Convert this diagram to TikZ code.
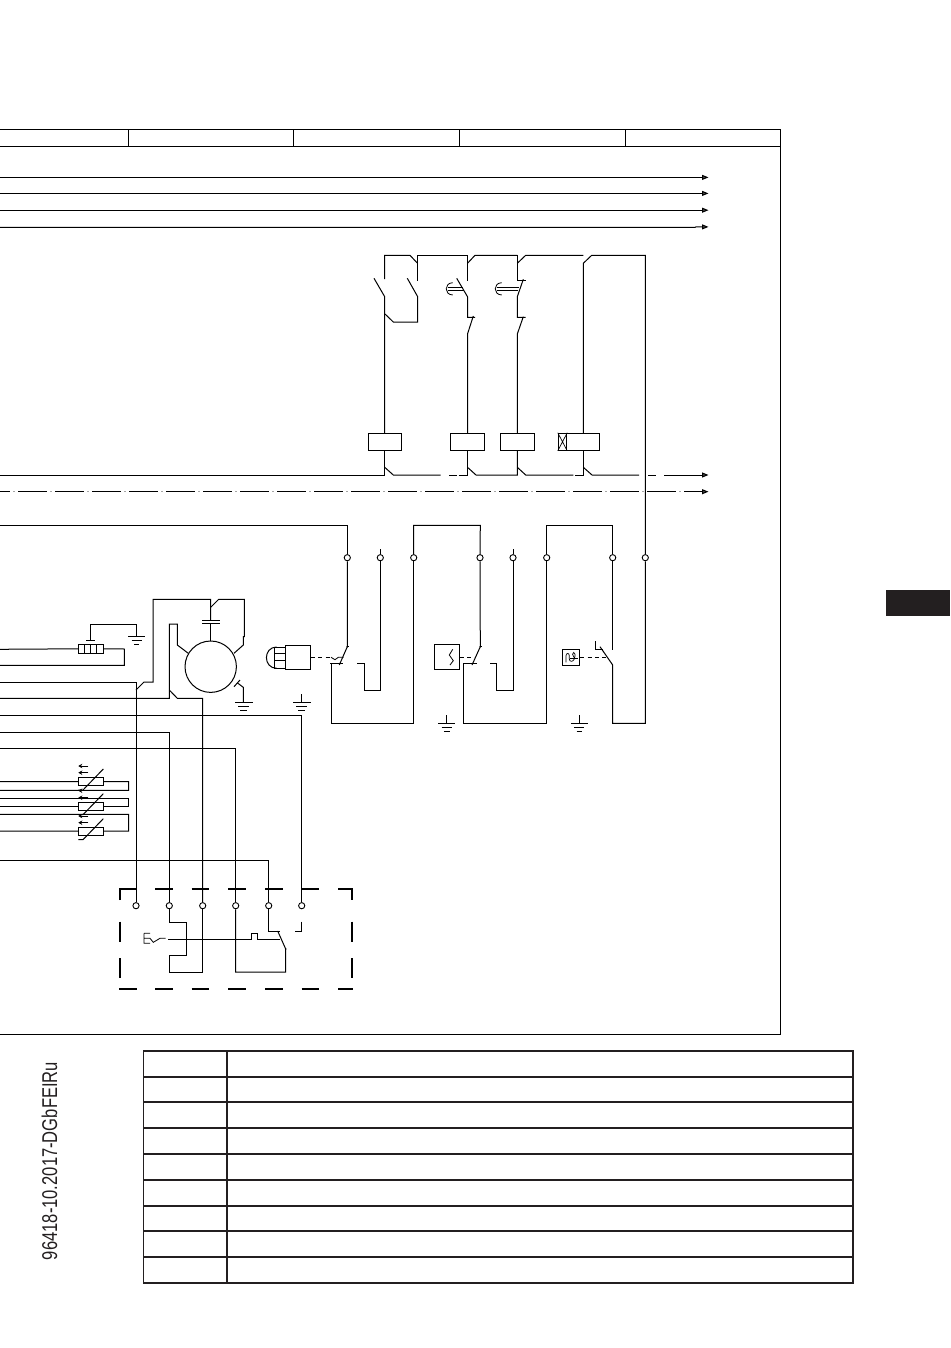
\documentclass[tikz,border=0pt]{standalone}
\usepackage{fontspec}
\usepackage{graphicx}
\setmainfont{Liberation Sans}
\usetikzlibrary{arrows.meta}
\definecolor{ink}{HTML}{231F20}
\tikzset{
  wire/.style={line width=1pt,line cap=butt,line join=miter,draw=black},
  thick wire/.style={line width=1.6pt,draw=black},
  bus/.style={wire,-{Triangle[length=6.5pt,width=5pt,fill=black!70]}},
  terminal/.style={circle,draw=black,fill=white,line width=0.9pt,inner sep=0pt,minimum size=6.2pt},
  coil/.style={rectangle,draw=black,line width=1pt,inner sep=0pt,minimum height=17pt},
  blockbox/.style={rectangle,draw=black,line width=1pt,inner sep=0pt},
  linkage/.style={line width=0.9pt,draw=black,dash pattern=on 4pt off 3.2pt},
  dashlong/.style={line width=1pt,draw=black,dash pattern=on 29pt off 8pt,dash phase=18.7pt},
  dashdot/.style={line width=1pt,draw=black!35,dash pattern=on 1.6pt off 35.4pt,dash phase=23.7pt},
  cabinet/.style={line width=1.8pt,draw=black},
  gridline/.style={line width=1.8pt,draw=ink},
  resbox/.style={rectangle,draw=black,fill=white,line width=1pt,inner sep=0pt,minimum width=25.4pt,minimum height=8.4pt},
}
\begin{document}
\begin{tikzpicture}[x=1pt,y=-1pt]
\useasboundingbox (0,0) rectangle (950,1348);
% free ends at the cut-off left edge
\foreach \n/\y in {a/177.4,b/193.4,c/210.2,d/227.4,e/475,f/491.7,g/525.3,h/649.3,i/665.3,j/682,k/698.3,l/715.7,m/732.7,n/748,o/781.7,p/790.3,q/798.3,r/806.3,s/814.3,t/831,u/860.3}{
  \coordinate (L\n) at (0,\y);
}
% frame
\coordinate (FTL) at (0,129.6); \coordinate (FTR) at (780.5,129.6);
\coordinate (FBR) at (780.5,1034.3); \coordinate (FBL) at (0,1034.3);
\coordinate (HL) at (0,146.4); \coordinate (HR) at (780.5,146.4);
\draw[wire] (FBL) -- (FBR) -- (FTR);
\draw[thick wire] (FTR) -- (FTL);
\draw[wire] (HL) -- (HR);
\foreach \x in {128.5,293.5,459.5,625}{\draw[wire] (\x,129.6) -- (\x,146.4);}
% buses
\foreach \n/\y in {a/177.4,b/193.4,c/210.2}{\draw[bus] (L\n) -- (708.5,\y);}
\draw[bus] (Ld) -- (695,227.4) -- (696,226.9) -- (708.5,226.9);
% coils
\node[coil,minimum width=33.4pt] (c1) at (384.7,441.8) {};
\node[coil,minimum width=34.4pt] (c2) at (467.5,441.8) {};
\node[coil,minimum width=33.4pt] (c3) at (517.3,441.8) {};
\node[coil,minimum width=33pt] (c4) at (583.3,441.8) {};
\node[coil,minimum width=8.4pt] (c4x) at (562.5,441.8) {};
\draw[wire,line width=.7pt] (c4x.north west) -- (c4x.south east) (c4x.north east) -- (c4x.south west);
% terminals
\foreach \n/\x in {t1/347.3,t2/380.3,t3/413.7,t4/480,t5/513,t6/546.7,t7/612.7,t8/645.3}{
  \node[terminal] (\n) at (\x,557.7) {};
}
\foreach \n/\x in {b1/136,b2/169.3,b3/202.7,b4/235.7,b5/268.7,b6/301.7}{
  \node[terminal] (\n) at (\x,905.7) {};
}
% upper control circuit
\draw[wire] (c1.north) -- (384.7,296.7) -- (374,278.3);
\draw[wire] (384.7,279) -- (384.7,255.3) -- (410,255.3) -- (417.5,263.3);
\draw[wire] (417.5,280.7) -- (417.5,255.3) -- (467.5,255.3) -- (467.5,280.7);
\draw[wire] (407.3,278.3) -- (417.7,296.7) -- (417.7,322) -- (393.3,322) -- (385,314);
\draw[wire] (456.7,278.3) -- (467.5,296.7) -- (467.5,317.3) -- (475,317.3);
\draw[wire] (473.3,316) -- (467.5,334) -- (c2.north);
\draw[wire] (467.5,263.3) -- (475,255.3) -- (517.3,255.3);
\draw[wire,line width=.8pt] (447.5,287.7) -- (463.3,287.7) (447.5,290) -- (463.8,290);
\draw[wire,line width=.8pt] (452.7,282.7) .. controls (444,283) and (444,294.7) .. (452.7,295);
\draw[wire] (517.3,255.3) -- (517.3,280) -- (525.7,280);
\draw[wire] (523.3,279.3) -- (517.3,296.7) -- (517.3,317.3) -- (525.7,317.3);
\draw[wire] (523.3,316.7) -- (517.3,334) -- (c3.north);
\draw[wire,line width=.8pt] (496.7,287.7) -- (518.5,287.7) (496.7,290) -- (518,290);
\draw[wire,line width=.8pt] (501.7,282.7) .. controls (493,283) and (493,294.7) .. (501.7,295);
\draw[wire] (517.3,263.3) -- (525.7,255.3) -- (583.3,255.3);
\draw[wire] (c4.north) -- (583.3,263.3) -- (591.7,255.3) -- (645.3,255.3) -- (t8.north);
% return line below the coils
\draw[wire] (Le) -- (384.7,475) -- (c1.south);
\draw[wire] (384.7,467.3) -- (393.3,475) -- (440.7,475);
\draw[wire] (449.3,475) -- (457,475) (458.5,475) -- (467.5,475) -- (c2.south);
\draw[wire] (467.5,467.3) -- (476,475) -- (517.3,475) -- (c3.south);
\draw[wire] (517.3,467.3) -- (525.7,475) -- (573.3,475);
\draw[wire] (575,475) -- (583.3,475) -- (c4.south);
\draw[wire] (583.3,467.3) -- (592,475) -- (639,475);
\draw[wire] (648,475) -- (656,475);
\draw[bus] (664,475) -- (708.5,475);
\draw[dashlong] (Lf) -- (702,491.7);
\draw[dashdot] (Lf) -- (702,491.7);
\draw[bus] (702,491.7) -- (708.5,491.7);
% right-hand switches
\draw[wire] (Lg) -- (347.3,525.3) -- (t1.north);
\draw[wire] (t1.south) -- (347.3,646.7) -- (339.3,665);
\draw[wire] (347.3,646.7) -- (349.3,646.7);
\fill (347.3,646.7) circle (.9pt);
\draw[wire] (t2.north) -- (380.3,549.3);
\draw[wire] (t2.south) -- (380.3,690) -- (364.3,690) -- (364.3,663.3) -- (357.3,663.3);
\draw[wire] (330,663.3) -- (343.3,663.3);
\draw[wire] (331,663.3) -- (331,723.3) -- (413.7,723.3) -- (t3.south);
\draw[wire] (t3.north) -- (413.7,525.3) -- (480.3,525.3) -- (t4.north);
\draw[wire] (t4.south) -- (480.3,646.7) -- (472,665);
\draw[wire] (480.3,646.7) -- (482.3,646.7);
\fill (480.3,646.7) circle (.9pt);
\draw[wire] (t5.north) -- (513,549.3);
\draw[wire] (t5.south) -- (513,690) -- (496.7,690) -- (496.7,663.3) -- (490,663.3);
\draw[wire] (463,663.3) -- (476.5,663.3);
\draw[wire] (463.5,663.3) -- (463.5,723.3) -- (546.7,723.3) -- (t6.south);
\draw[wire] (t6.north) -- (546.7,525.3) -- (612.7,525.3) -- (t7.north);
\draw[wire] (t7.south) -- (612.7,650);
\draw[wire] (600,646.7) -- (612.7,665) -- (612.7,723.3) -- (645.3,723.3) -- (t8.south);
\draw[wire] (595.3,641) -- (595.3,649.3) -- (602.7,649.3);
% lamp
\node[blockbox,minimum width=25pt,minimum height=24pt] (lamp) at (298.2,657.3) {};
\draw[wire] (276.7,647) .. controls (263,647) and (263,668.3) .. (276.7,668.3);
\draw[wire] (274.3,647) -- (285.7,647) (274.3,653.3) -- (285.7,653.3) (274.3,660) -- (285.7,660) (274.3,668.3) -- (285.7,668.3);
\draw[wire] (274.3,647) -- (274.3,668.3);
\draw[linkage] (lamp.east) -- (331,657.3);
\draw[wire,line width=.8pt] (331,657.3) -- (335,659.7) -- (338.3,657.3) -- (343.5,657.3);
% sensor 1
\node[blockbox,minimum width=25.4pt,minimum height=25.4pt] (s1) at (447,657) {};
\draw[wire,line width=.8pt] (452.7,649.3) -- (449.3,655) -- (453.3,660.7) -- (450,665);
\draw[linkage] (s1.east) -- (476,657);
% sensor 2
\node[blockbox,minimum width=17.6pt,minimum height=16.5pt] (s2) at (571.1,657.3) {};
\draw[wire,line width=.7pt] (566,662.3) -- (566,655.7) .. controls (566,652.7) and (569.3,652.7) .. (569.3,655.7) -- (569.3,659) .. controls (569.3,662) and (573,662) .. (574,659.5) .. controls (575.8,655) and (575.3,652.5) .. (573.7,652.5) .. controls (572,652.5) and (572.3,655.5) .. (574,657.5);
\draw[wire,line width=.7pt] (570,658) -- (577.5,658);
\draw[linkage] (s2.east) -- (606,657.3);
% earths of the switches
\foreach \x/\y in {446.7/723.3,579.3/723.3}{
  \draw[wire] (\x,\y-8.3) -- (\x,\y) (\x-8.3,\y) -- (\x+8.3,\y) (\x-5,\y+4) -- (\x+5,\y+4) (\x-2.8,\y+8) -- (\x+2.8,\y+8);
}
% motor
\node[circle,draw=black,line width=1pt,inner sep=0pt,minimum size=51.4pt] (mot) at (210.7,666.7) {};
\draw[wire] (Lj) -| (b1.north);
\draw[wire] (136,690) -- (144,682) -- (153,682) -- (153,599.3) -- (210.7,599.3) -- (210.7,620);
\draw[wire] (202.3,620) -- (220,620) (202.3,623.7) -- (220,623.7);
\draw[wire] (210.7,623.7) -- (mot.north);
\draw[wire] (210.7,607.3) -- (218.7,599.3) -- (244.3,599.3) -- (244.3,636.5) -- (243.3,636.5) -- (243.3,645) -- (234,653.3);
\draw[wire] (Lk) -- (169.3,698.3) -- (169.3,624) -- (177.3,624) -- (177.3,645) -- (188.3,653.3);
\draw[wire] (169.3,690) -- (177.3,698.3) -- (202.7,698.3) -- (b3.north);
\draw[wire] (234,686.7) -- (240,680);
\draw[wire] (237.5,683) -- (243.3,687.3) -- (243.3,702.3);
\draw[wire] (235,702.3) -- (252.7,702.3) (238.3,706.7) -- (249,706.7) (240,710.7) -- (246.7,710.7);
\draw[wire] (301.7,694.3) -- (301.7,702.3) (293,702.3) -- (310.7,702.3) (296,706.7) -- (307,706.7) (298,710.7) -- (305,710.7);
\draw[wire] (Ll) -| (b6.north);
\draw[wire] (Lm) -- (169.3,732.7) -- (b2.north);
\draw[wire] (Ln) -- (235.7,748) -- (b4.north);
\draw[wire] (Lu) -- (268.7,860.3) -- (b5.north);
% fuse block
\node[blockbox,minimum width=25pt,minimum height=9pt] (fuse) at (90.8,648.8) {};
\draw[wire] (84.5,644.3) -- (84.5,653.3) (90.7,644.3) -- (90.7,653.3) (96.9,644.3) -- (96.9,653.3);
\draw[wire] (Lh) -- (fuse.west);
\draw[wire] (fuse.east) -- (124.3,649) -- (124.3,665.3) -- (Li);
\draw[wire] (86,640.7) -- (95,640.7);
\draw[wire] (90.5,640.7) -- (90.5,624.3) -- (136.3,624.3) -- (136.3,636);
\draw[wire] (128.3,636) -- (145,636) (131.5,640) -- (141.5,640) (134,644) -- (139.3,644);
% adjustable resistors
\node[resbox] (r1) at (91,781.5) {};
\node[resbox] (r2) at (91,806.3) {};
\node[resbox] (r3) at (91,831.2) {};
\draw[wire] (Lo) -- (r1.west);
\draw[wire] (r1.east) -- (128.5,781.7) -- (128.5,790.3) -- (Lp);
\draw[wire] (Lq) -- (128.5,798.3) -- (128.5,806.3) -- (r2.east);
\draw[wire] (Lr) -- (r2.west);
\draw[wire] (Ls) -- (128.5,814.3) -- (128.5,831) -- (r3.east);
\draw[wire] (Lt) -- (r3.west);
\foreach \y in {769,793.7,818.7}{
  \draw[wire] (103.3,\y) -- (83,\y+21) -- (78.3,\y+21);
}
\foreach \y in {766,772.7,790.7,797.7,816,822.7}{
  \draw[wire,line width=.8pt,-{Stealth[length=4pt,width=4.5pt]}] (88.3,\y) -- (78.3,\y);
}
% dashed housing
\draw[cabinet] (120,900) -- (120,889) -- (136.7,889);
\foreach \x in {155,191.7,228.3,265,301.7}{\draw[cabinet] (\x,889) -- (\x+17.7,889);}
\draw[cabinet] (338.3,889) -- (352,889) -- (352,900);
\foreach \y in {921.7,958.3}{\draw[cabinet] (120,\y) -- (120,\y+20) (352,\y) -- (352,\y+20);}
\draw[cabinet] (119,988.7) -- (136.7,988.7);
\foreach \x in {155,191.7,228.3,265,301.7}{\draw[cabinet] (\x,988.7) -- (\x+17.7,988.7);}
\draw[cabinet] (338.3,988.7) -- (353,988.7);
% wiring inside the housing
\draw[wire] (b2.south) -- (169.3,922.3) -- (186.7,922.3) -- (186.7,955.3) -- (169.3,955.3) -- (169.3,972) -- (202.7,972) -- (b3.south);
\draw[wire] (b4.south) -- (235.7,972) -- (285.7,972) -- (285.7,949) -- (277.7,931);
\fill (285.7,949) circle (.9pt);
\draw[wire] (b5.south) -- (268.7,931.7) -- (280,931.7);
\draw[wire] (301.7,921.7) -- (301.7,931.7) -- (295.3,931.7);
\draw[wire,line width=.8pt] (168.3,939) -- (251.7,939) -- (251.7,933.3) -- (257.3,933.3) -- (257.3,939) -- (280,939);
\draw[wire,line width=.8pt] (144,933.3) -- (150,933.3) (144,933.3) -- (144,943.3) -- (150,943.3) (144,938.3) -- (150,938.3) -- (153.3,942.3) -- (160,938.3) -- (165.7,938.3);
% marker block
\fill[ink] (886,589.5) rectangle (950,615.5);
% table
\draw[gridline] (143.5,1050.7) rectangle (853,1283.3);
\draw[gridline] (226.7,1050.7) -- (226.7,1283.3);
\foreach \y in {1076.7,1102.3,1127.7,1153.7,1179.7,1205.7,1231.3,1257}{\draw[gridline] (143.5,\y) -- (853,\y);}
% document number
\node[rotate=90,inner sep=0pt,text=ink] (docno) at (49.5,1161) {\resizebox{198pt}{15.5pt}{96418-10.2017-DGbFEIRu}};
\end{tikzpicture}
\end{document}
